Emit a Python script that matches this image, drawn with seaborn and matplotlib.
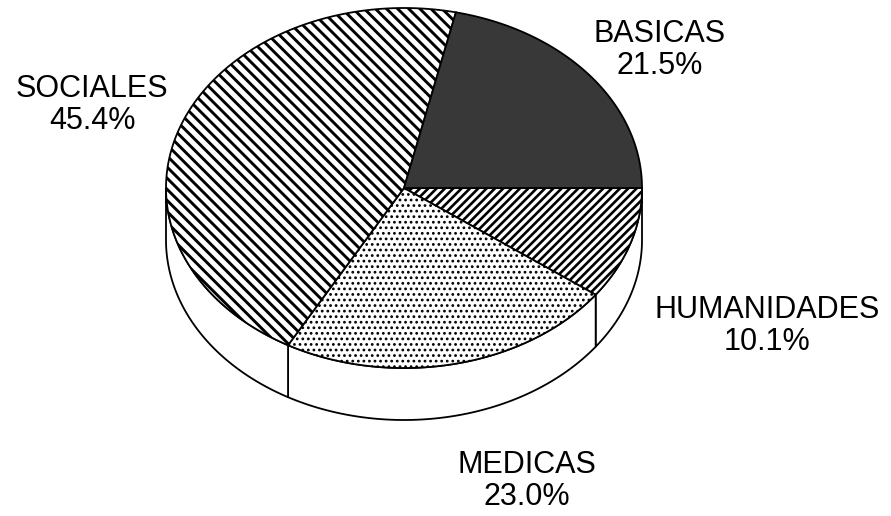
import numpy as np
import matplotlib
matplotlib.use("Agg")
import matplotlib.pyplot as plt
from matplotlib.patches import Polygon
import seaborn as sns

# data (clockwise from 3 o'clock)
categories = ["HUMANIDADES", "MEDICAS", "SOCIALES", "BASICAS"]
shares = [10.1, 23.0, 45.4, 21.5]
pct_labels = [f"{v:.1f}%" for v in shares]

sns.set_theme(style="white")
plt.rcParams["font.family"] = ["Liberation Sans", "DejaVu Sans"]
plt.rcParams["hatch.linewidth"] = 1.6

# styles per wedge
faces = ["white", "white", "white", "#383838"]
hatches = ["////", "...", "\\\\\\", None]
hatch_lw = [1.9, 1.2, 2.1, 1.0]

# pie geometry in pixel units
CX, CY, RX, RY, DEPTH = 404, 188, 238, 180, 52

def arc(t0, t1, dy=0, n=120):
    t = np.radians(np.linspace(t0, t1, n))
    return np.column_stack([CX + RX * np.cos(t), CY - RY * np.sin(t) + dy])

fig = plt.figure(figsize=(8.91, 5.16), dpi=100)
ax = fig.add_axes([0, 0, 1, 1])
ax.set_xlim(0, 891)
ax.set_ylim(516, 0)
ax.axis("off")

ends = -np.cumsum(shares) / sum(shares) * 360
starts = np.concatenate([[0], ends[:-1]])

# side walls (front half only)
for s, e in zip(starts, ends):
    lo, hi = max(e, -180), min(s, 0)
    if lo >= hi:
        continue
    top = arc(hi, lo)
    bot = arc(lo, hi, dy=DEPTH)
    ax.add_patch(Polygon(np.vstack([top, bot]), closed=True,
                         facecolor="white", edgecolor="black", lw=1.3))

# top faces
for s, e, fc, h, hlw in zip(starts, ends, faces, hatches, hatch_lw):
    pts = np.vstack([[CX, CY], arc(s, e)])
    with plt.rc_context({"hatch.linewidth": hlw}):
        p = Polygon(pts, closed=True, facecolor=fc, edgecolor="black",
                    hatch=h, lw=1.3)
    if hasattr(p, "set_hatch_linewidth"):
        p.set_hatch_linewidth(hlw)
    ax.add_patch(p)

# labels
label_pos = {
    "SOCIALES": (92, 89, 121),
    "BASICAS": (660, 34, 66),
    "HUMANIDADES": (767, 310, 342),
    "MEDICAS": (527, 465, 497),
}
for name, pct in zip(categories, pct_labels):
    x, y1, y2 = label_pos[name]
    ax.text(x, y1, name, ha="center", va="center", fontsize=22, color="black")
    ax.text(x, y2, pct, ha="center", va="center", fontsize=22, color="black")

fig.savefig("out.png", dpi=100, facecolor="white")
